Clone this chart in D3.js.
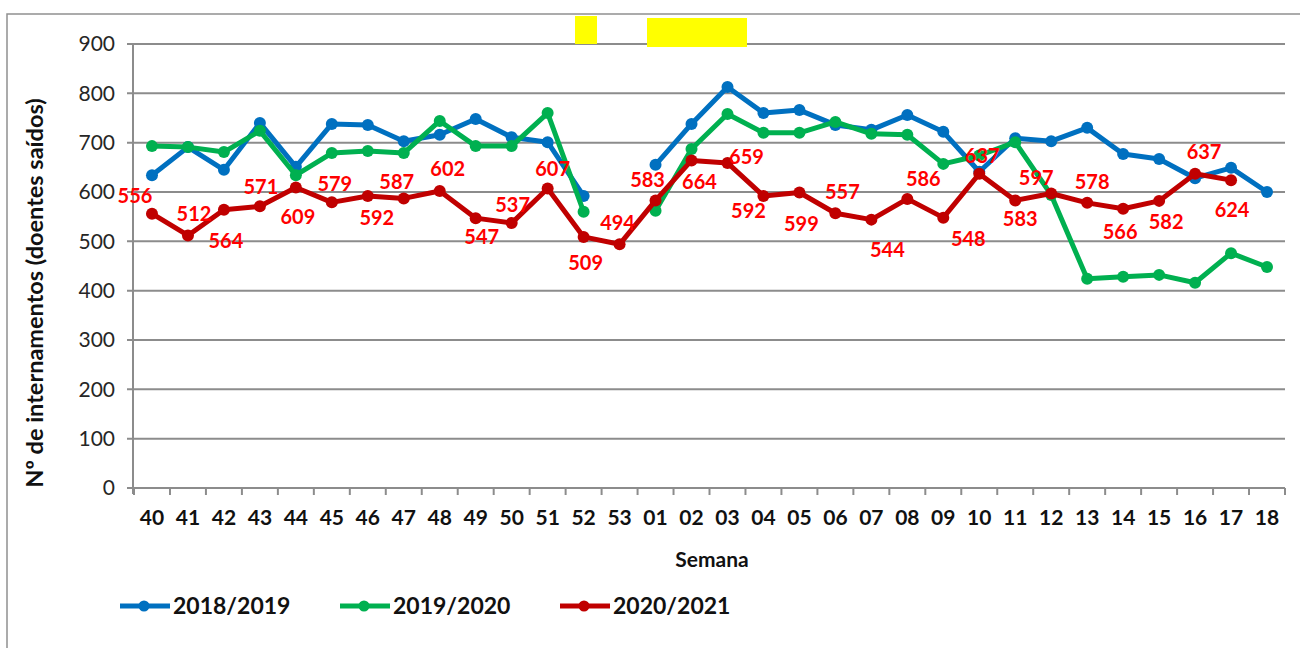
<!DOCTYPE html>
<html>
<head>
<meta charset="utf-8">
<script src="https://cdn.jsdelivr.net/npm/d3@7"></script>
<style>
  body { margin: 0; background: #fff; }
  svg { display: block; font-family: Lato, "Open Sans", sans-serif; }
</style>
</head>
<body>
<div class="chart"></div>
<script>
var weeks = ["40", "41", "42", "43", "44", "45", "46", "47", "48", "49", "50", "51", "52", "53",
  "01", "02", "03", "04", "05", "06", "07", "08", "09", "10", "11", "12", "13", "14", "15", "16", "17", "18"];

var s2018 = [634, 691, 645, 740, 651, 738, 736, 703, 716, 748, 711, 701, 592, null,
  655, 738, 813, 760, 766, 736, 726, 756, 722, 641, 709, 703, 730, 677, 667, 628, 649, 600];

var s2019 = [693, 691, 681, 724, 634, 679, 683, 679, 744, 693, 693, 760, 560, null,
  562, 687, 758, 720, 720, 742, 718, 716, 657, 674, 701, 594, 424, 428, 432, 416, 476, 448];

var s2020 = [556, 512, 564, 571, 609, 579, 592, 587, 602, 547, 537, 607, 509, 494,
  583, 664, 659, 592, 599, 557, 544, 586, 548, 637, 583, 597, 578, 566, 582, 637, 624, null];

var seriesNames = ["2018/2019", "2019/2020", "2020/2021"];
var yTicks = [0, 100, 200, 300, 400, 500, 600, 700, 800, 900];

// where each red value label sits relative to its point (dx, dy)
var labelOffsets = [[-17, -18], [6, -22], [2, 31], [1, -20], [2, 29], [3, -19], [9, 22], [-7, -17],
  [8, -22], [6, 19], [1, -18], [5, -20], [2, 26], [-2, -21], [-8, -21], [8, 21], [19, -6],
  [-15, 15], [2, 31], [7, -21], [16, 30], [16, -20], [25, 21], [3, -18], [5, 18], [-15, -16],
  [5, -21], [-3, 23], [7, 21], [9, -22], [1, 30]];

function init() {
  var w = 1300;
  var h = 648;
  var left = 134, right = 1285, top = 44, bottom = 488;
  var colors = ["#0070C0", "#00B050", "#C00000"];
  var gridColor = "#8c8c8c";

  var svg = d3.select(".chart")
    .append("svg")
    .attr("width", w)
    .attr("height", h);

  // outer chart frame
  svg.append("rect")
    .attr("x", 7)
    .attr("y", 14)
    .attr("width", w + 20)
    .attr("height", h + 20)
    .attr("fill", "none")
    .attr("stroke", "#909090")
    .attr("stroke-width", 1.5);

  var xScale = d3.scaleBand()
    .domain(weeks)
    .range([left, right])
    .padding(0);

  var yScale = d3.scaleLinear()
    .domain([0, 900])
    .range([bottom, top]);

  // gridlines
  svg.append("g")
    .selectAll("line")
    .data(yTicks)
    .enter()
    .append("line")
    .attr("x1", left - 7)
    .attr("x2", right)
    .attr("y1", function(d) { return yScale(d); })
    .attr("y2", function(d) { return yScale(d); })
    .attr("stroke", gridColor)
    .attr("stroke-width", 2);

  // yellow highlight boxes at the top
  svg.append("rect").attr("x", 575).attr("y", 16).attr("width", 22).attr("height", 28).attr("fill", "#FFFF00");
  svg.append("rect").attr("x", 647).attr("y", 18).attr("width", 100).attr("height", 29).attr("fill", "#FFFF00");

  // y axis
  var yAxis = svg.append("g")
    .attr("transform", "translate(" + (left - 1) + ",0)")
    .call(d3.axisLeft(yScale).tickValues(yTicks).tickSize(0).tickPadding(18));
  yAxis.select(".domain").remove();
  yAxis.selectAll("text")
    .style("font-size", "21px")
    .style("font-family", "Lato, sans-serif")
    .attr("fill", "#262626");

  svg.append("line")
    .attr("x1", left - 1).attr("x2", left - 1)
    .attr("y1", top).attr("y2", bottom + 6)
    .attr("stroke", gridColor)
    .attr("stroke-width", 2);

  // x axis ticks at band edges
  var edges = weeks.map(function(d) { return xScale(d); }).concat([right]);
  svg.append("g")
    .selectAll("line")
    .data(edges)
    .enter()
    .append("line")
    .attr("x1", function(d) { return d; })
    .attr("x2", function(d) { return d; })
    .attr("y1", bottom)
    .attr("y2", bottom + 7)
    .attr("stroke", gridColor)
    .attr("stroke-width", 2);

  var xAxis = svg.append("g")
    .attr("transform", "translate(0," + bottom + ")")
    .call(d3.axisBottom(xScale).tickSize(0).tickPadding(22));
  xAxis.select(".domain").remove();
  xAxis.selectAll("text")
    .style("font-size", "21px")
    .style("font-weight", "bold")
    .style("font-family", "Lato, sans-serif")
    .attr("fill", "#111");

  svg.append("text")
    .attr("x", 712)
    .attr("y", 567)
    .attr("text-anchor", "middle")
    .attr("font-weight", "bold")
    .attr("font-size", "21px")
    .attr("fill", "#111")
    .text("Semana");

  svg.append("text")
    .attr("transform", "rotate(-90)")
    .attr("x", -293)
    .attr("y", 43)
    .attr("text-anchor", "middle")
    .attr("font-weight", "bold")
    .attr("font-size", "23.5px")
    .attr("fill", "#111")
    .text("Nº de internamentos (doentes saídos)");

  // series
  var allSeries = [s2018, s2019, s2020];
  var line = d3.line()
    .defined(function(d) { return d != null; })
    .x(function(d, i) { return xScale(weeks[i]) + xScale.bandwidth() / 2; })
    .y(function(d) { return yScale(d); });

  allSeries.forEach(function(values, k) {
    var g = svg.append("g");
    g.append("path")
      .datum(values)
      .attr("d", line)
      .attr("fill", "none")
      .attr("stroke", colors[k])
      .attr("stroke-width", 5)
      .attr("stroke-linejoin", "round");

    g.selectAll("circle")
      .data(values.map(function(v, i) { return { v: v, i: i }; }).filter(function(d) { return d.v != null; }))
      .enter()
      .append("circle")
      .attr("cx", function(d) { return xScale(weeks[d.i]) + xScale.bandwidth() / 2; })
      .attr("cy", function(d) { return yScale(d.v); })
      .attr("r", 6)
      .attr("fill", colors[k]);
  });

  // red value labels
  svg.append("g")
    .selectAll("text")
    .data(s2020.map(function(v, i) { return { v: v, i: i }; }).filter(function(d) { return d.v != null; }))
    .enter()
    .append("text")
    .attr("x", function(d) { return xScale(weeks[d.i]) + xScale.bandwidth() / 2 + labelOffsets[d.i][0]; })
    .attr("y", function(d) { return yScale(d.v) + labelOffsets[d.i][1]; })
    .attr("dy", "0.36em")
    .attr("text-anchor", "middle")
    .attr("font-weight", "bold")
    .attr("font-size", "20px")
    .attr("fill", "#FF0000")
    .text(function(d) { return d.v; });

  // legend
  var legendItem = svg.append("g")
    .selectAll("g")
    .data(seriesNames)
    .enter()
    .append("g")
    .attr("transform", function(d, i) { return "translate(" + (120 + i * 220) + ",606)"; });

  legendItem.append("line")
    .attr("x1", 0).attr("x2", 50)
    .attr("y1", 0).attr("y2", 0)
    .attr("stroke", function(d, i) { return colors[i]; })
    .attr("stroke-width", 5);

  legendItem.append("circle")
    .attr("cx", 24).attr("cy", 0).attr("r", 5.5)
    .attr("fill", function(d, i) { return colors[i]; });

  legendItem.append("text")
    .attr("x", 53)
    .attr("y", 0)
    .attr("dy", "0.36em")
    .attr("font-weight", "bold")
    .attr("font-size", "23px")
    .attr("fill", "#111")
    .text(function(d) { return d; });
}

window.onload = init;
</script>
</body>
</html>
